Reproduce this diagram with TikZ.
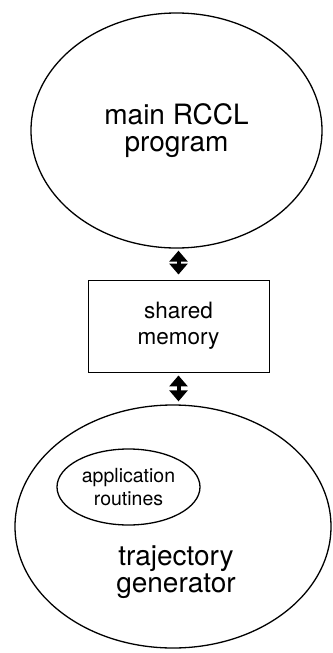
\documentclass[tikz,border=0pt]{standalone}
\usepackage{fontspec}
\setmainfont{TeX Gyre Heros}
\usetikzlibrary{shapes.geometric,arrows.meta}
\begin{document}
\begin{tikzpicture}[x=1pt,y=-1pt,
  oval/.style={ellipse,draw,line width=1.3pt,inner sep=0pt,align=center},
  memobox/.style={rectangle,draw,line width=0.9pt,inner sep=0pt,align=center},
  biarrow/.style={line width=4pt,{Triangle[width=18pt,length=11pt]}-{Triangle[width=18pt,length=11pt]}},
  big/.style={font=\fontsize{28}{27.5}\selectfont},
  ]
\useasboundingbox (0,0) rectangle (332,653);
\node[oval,big,minimum width=291pt,minimum height=235pt] (main) at (176.5,130.5) {main RCCL\\program};
\node[memobox,minimum width=181pt,minimum height=92pt,font=\fontsize{22.5}{26}\selectfont] (mem) at (178.5,326) {shared\\memory};
\node[oval,minimum width=316pt,minimum height=243pt] (traj) at (173,526.5) {};
\node[oval,minimum width=143pt,minimum height=76pt,font=\fontsize{19.5}{23}\selectfont] (app) at (128.5,487) {application\\routines};
\node[big,align=center] (trajlabel) at (176,572) {trajectory\\generator};
\draw[biarrow,shorten <=2pt,shorten >=5pt] (main.south -| mem.north) -- (mem.north);
\draw[biarrow,shorten <=3pt,shorten >=3pt] (mem.south) -- (mem.south |- traj.north);
\end{tikzpicture}
\end{document}
